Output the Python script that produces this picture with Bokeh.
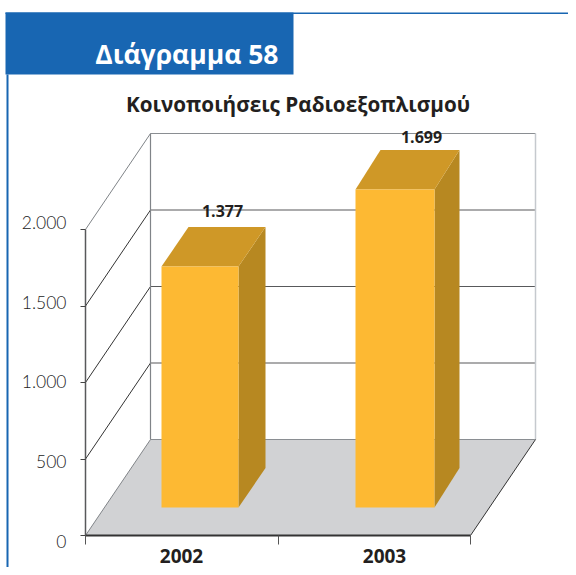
from bokeh.plotting import figure
from bokeh.models import LinearAxis, FixedTicker
from bokeh.core.properties import value
from bokeh.embed import file_html
from bokeh.resources import INLINE

categories = ["2002", "2003"]
values = [1377, 1699]
value_labels = ["1.377", "1.699"]
# heights of the drawn bars as they read against the chart's own y axis
drawn_heights = [1575, 2078]
y_ticks = [0, 500, 1000, 1500, 2000]
y_tick_labels = ["0", "500", "1.000", "1.500", "2.000"]
x_ticks = [0, 1, 2]
title = "Κοινοποιήσεις Ραδιοεξοπλισμού"
header = "Διάγραμμα 58"

W, H = 568, 567
X0, PX_X = 85.0, 192.5      # pixel of x=0, pixels per x unit
Y0, PX_Y = 535.0, 0.153     # pixel of y=0, pixels per y unit
def dx(px): return (px - X0) / PX_X
def dy(py): return (Y0 - py) / PX_Y

DEPTH_X = 65 / PX_X
DEPTH_Y = 96 / PX_Y

p = figure(width=W, height=H, output_backend="svg", toolbar_location=None,
           x_range=(dx(0), dx(W)), y_range=(dy(H), dy(0)),
           min_border=0, min_border_left=0, min_border_right=0,
           min_border_top=0, min_border_bottom=0,
           x_axis_location=None, y_axis_location=None)
p.grid.visible = False
p.outline_line_color = None
p.background_fill_color = "white"

# page frame
BLUE = "#1866B2"
p.quad(left=dx(5), right=dx(293), top=dy(12), bottom=dy(74), fill_color=BLUE, line_color=None)
p.quad(left=dx(5), right=dx(W), top=dy(12), bottom=dy(13.5), fill_color=BLUE, line_color=None)
p.quad(left=dx(6), right=dx(8), top=dy(74), bottom=dy(H), fill_color=BLUE, line_color=None)
p.text([dx(278)], [dy(53)], text=[header], text_color="white", text_font=value("Open Sans"),
       text_font_style="bold", text_font_size="26.5px", text_align="right", text_baseline="middle")
p.text([dx(297.5)], [dy(103.5)], text=[title], text_color="#231F20", text_font=value("Open Sans"),
       text_font_style="bold", text_font_size="20.7px", text_align="center", text_baseline="middle")

# floor
p.patch([0, 2, 2 + DEPTH_X, DEPTH_X], [0, 0, DEPTH_Y, DEPTH_Y], fill_color="#D1D2D4", line_color=None)

# walls
for v in y_ticks:
    diag_color = "#808488" if v in (0, 2000) else "#333333"
    p.line([0, DEPTH_X], [v, v + DEPTH_Y], line_color=diag_color, line_width=1)
    back_color = "#8A8E92" if v in (0, 2000) else "#58595B"
    p.line([DEPTH_X, 2 + DEPTH_X], [v + DEPTH_Y, v + DEPTH_Y], line_color=back_color, line_width=1.2)
p.line([DEPTH_X, DEPTH_X], [DEPTH_Y, 2000 + DEPTH_Y], line_color="#808488", line_width=1.2)
p.line([2 + DEPTH_X, 2 + DEPTH_X], [DEPTH_Y, 2000 + DEPTH_Y], line_color="#C5C9CE", line_width=1.5)
p.line([2, 2 + DEPTH_X], [0, DEPTH_Y], line_color="#333333", line_width=1)

# bars
BAR_LEFT = [dx(161), dx(355)]
BAR_RIGHT = [dx(238), dx(434)]
BAR_BASE = dy(507)
BAR_DX = [27 / PX_X, 25 / PX_X]
BAR_DY = 39.5 / PX_Y
for i in range(len(categories)):
    l, r, t = BAR_LEFT[i], BAR_RIGHT[i], BAR_BASE + drawn_heights[i]
    d = BAR_DX[i]
    p.patch([r, r + d, r + d, r], [BAR_BASE, BAR_BASE + BAR_DY, t + BAR_DY, t],
            fill_color="#B78821", line_color=None)
    p.patch([l, r, r + d, l + d], [t, t, t + BAR_DY, t + BAR_DY],
            fill_color="#CF9827", line_color=None)
    p.quad(left=l, right=r, bottom=BAR_BASE, top=t, fill_color="#FDB933", line_color=None)

# value labels
p.text([dx(222), dx(421)], [dy(210.5), dy(136)], text=value_labels, text_color="#231F20",
       text_font=value("Open Sans"), text_font_style="bold", text_font_size="16px",
       text_align="center", text_baseline="middle")

# axes
yax = LinearAxis(fixed_location=0, ticker=FixedTicker(ticks=y_ticks), bounds=(0, 2000),
                 major_label_text_font_size="0px", major_label_text_color=None,
                 axis_line_color="#58595B", axis_line_width=1.5,
                 major_tick_line_color="#444444", major_tick_in=0, major_tick_out=5,
                 minor_tick_line_color=None)
p.add_layout(yax, "left")
xax = LinearAxis(fixed_location=0, ticker=FixedTicker(ticks=x_ticks), bounds=(0, 2),
                 major_label_text_font_size="0px", major_label_text_color=None,
                 axis_line_color="#333333", axis_line_width=2,
                 major_tick_line_color="#555555", major_tick_in=0, major_tick_out=9,
                 minor_tick_line_color=None)
p.add_layout(xax, "below")

# tick label text
p.text([dx(66)] * 5, [dy(541), dy(461), dy(381), dy(302), dy(222)], text=y_tick_labels,
       text_color="#222222", text_font=value("Lato Light"), text_font_size="17.5px",
       text_align="right", text_baseline="middle")
p.text([dx(181), dx(384)], [dy(555)] * 2, text=categories, text_color="#231F20",
       text_font=value("Open Sans"), text_font_style="bold", text_font_size="19px",
       text_align="center", text_baseline="middle")

open("out.html", "w").write(file_html(p, INLINE))
